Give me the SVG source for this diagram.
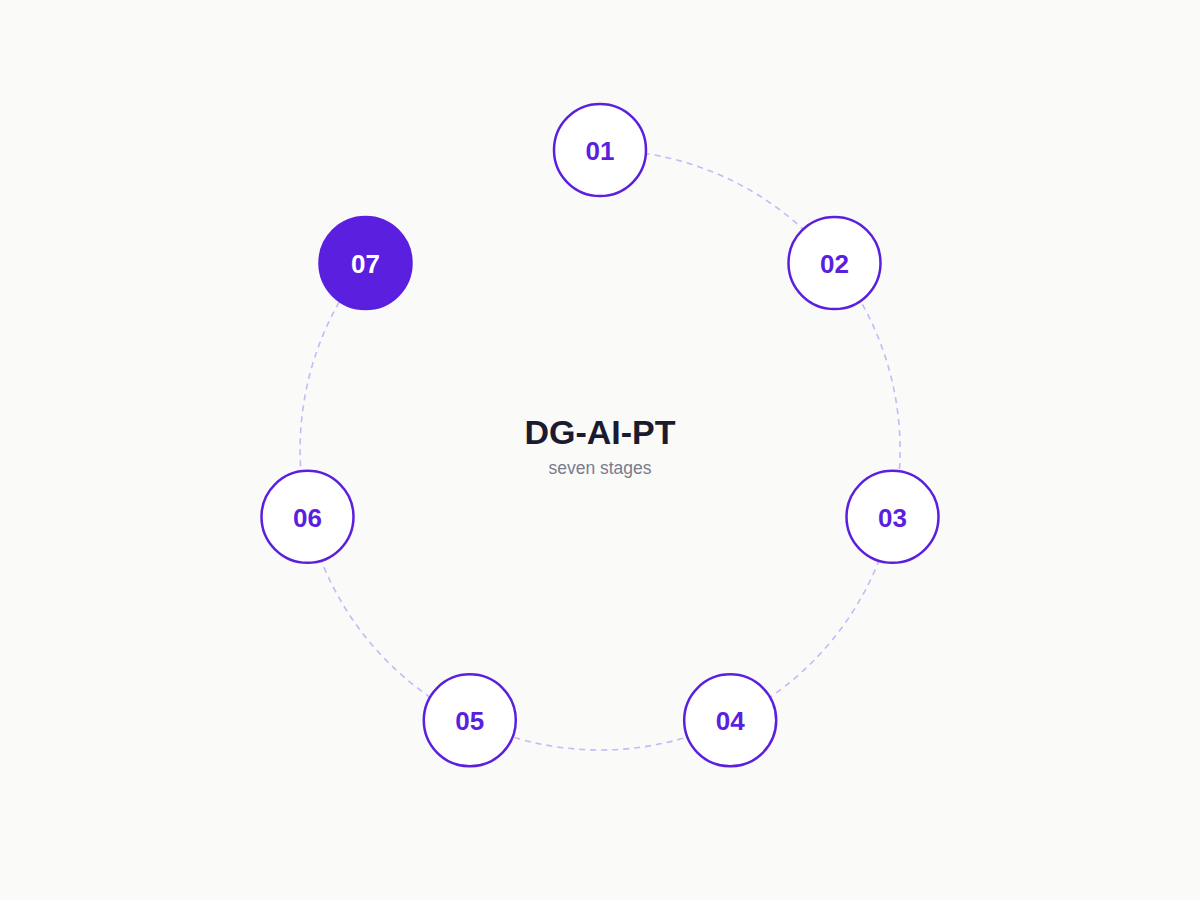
<svg xmlns="http://www.w3.org/2000/svg" width="1200" height="900" viewBox="0 0 1200 900">
<style>
.bg{fill:#fafaf9}
.ring{fill:none;stroke:#c8b8f8;stroke-width:1.6;stroke-dasharray:6 5}
.node{fill:#ffffff;stroke:#5b1fdf;stroke-width:2.5}
.node.active{fill:#5b1fdf}
.lbl{font-family:"Liberation Sans",Arial,sans-serif;font-weight:bold;font-size:26px;fill:#5b1fdf;text-anchor:middle;dominant-baseline:central}
.lbl.active{fill:#ffffff}
.title{font-family:"Liberation Sans",Arial,sans-serif;font-weight:bold;font-size:34px;fill:#1a1b2e;text-anchor:middle}
.sub{font-family:"Liberation Sans",Arial,sans-serif;font-size:17.5px;fill:#7b7b8c;text-anchor:middle}
</style>
<rect class="bg" x="0" y="0" width="1200" height="900"/>
<g id="connectors">
<path class="ring" d="M 600 150 A 300 300 0 1 1 365.5 263"/>
</g>
<g id="center">
<text class="title" x="600" y="444">DG-AI-PT</text>
<text class="sub" x="600" y="474">seven stages</text>
</g>
<g id="node-01"><circle class="node" cx="600" cy="150" r="46"/><text class="lbl" x="600" y="151">01</text></g>
<g id="node-02"><circle class="node" cx="834.5" cy="263" r="46"/><text class="lbl" x="834.5" y="264">02</text></g>
<g id="node-03"><circle class="node" cx="892.5" cy="516.8" r="46"/><text class="lbl" x="892.5" y="517.8">03</text></g>
<g id="node-04"><circle class="node" cx="730.2" cy="720.3" r="46"/><text class="lbl" x="730.2" y="721.3">04</text></g>
<g id="node-05"><circle class="node" cx="469.8" cy="720.3" r="46"/><text class="lbl" x="469.8" y="721.3">05</text></g>
<g id="node-06"><circle class="node" cx="307.5" cy="516.8" r="46"/><text class="lbl" x="307.5" y="517.8">06</text></g>
<g id="node-07"><circle class="node active" cx="365.5" cy="263" r="46"/><text class="lbl active" x="365.5" y="264">07</text></g>
</svg>
